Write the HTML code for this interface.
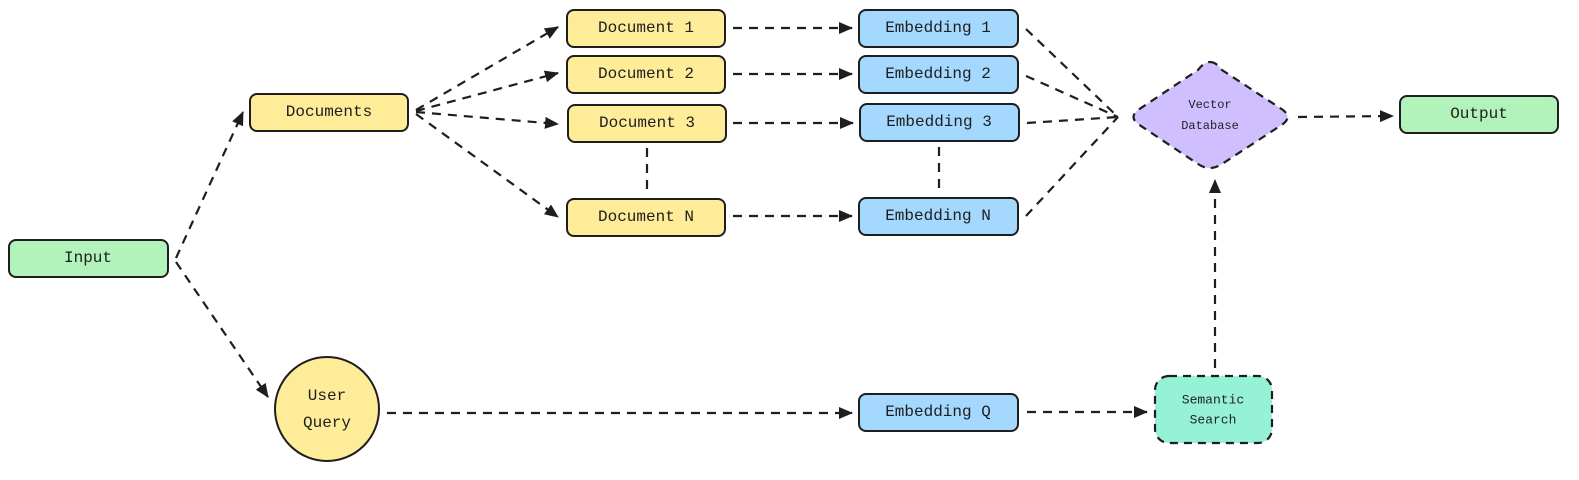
<!DOCTYPE html>
<html><head><meta charset="utf-8"><style>
body{margin:0;background:#fff;}
svg text{font-family:"Liberation Mono",monospace;font-size:16px;fill:#1e1e1e;text-anchor:middle;dominant-baseline:central;}
</style></head><body>
<svg width="1579" height="475" viewBox="0 0 1579 475" xmlns="http://www.w3.org/2000/svg">
<defs><marker id="a" markerWidth="14" markerHeight="14" refX="13" refY="7" orient="auto" markerUnits="userSpaceOnUse"><path d="M0,1 L14,7 L0,13 Z" fill="#1e1e1e"/></marker></defs>
<g stroke="#1e1e1e" stroke-width="2.2" stroke-dasharray="9,7" fill="none">
<path d="M176,258 L243,112" marker-end="url(#a)"/>
<path d="M176,262 L268,397" marker-end="url(#a)"/>
<path d="M416,110 L558,27" marker-end="url(#a)"/>
<path d="M416,111 L558,73" marker-end="url(#a)"/>
<path d="M416,112 L558,124" marker-end="url(#a)"/>
<path d="M416,114 L558,217" marker-end="url(#a)"/>
<path d="M733,28 L852,28" marker-end="url(#a)"/>
<path d="M733,74 L852,74" marker-end="url(#a)"/>
<path d="M733,123 L853,123" marker-end="url(#a)"/>
<path d="M733,216 L852,216" marker-end="url(#a)"/>
<path d="M647,148 L647,193"/>
<path d="M939,147 L939,192"/>
<path d="M1026,29 L1118,117"/>
<path d="M1026,76 L1118,117"/>
<path d="M1027,123 L1118,117"/>
<path d="M1026,216 L1118,117"/>
<path d="M1298,117 L1393,116" marker-end="url(#a)"/>
<path d="M387,413 L852,413" marker-end="url(#a)"/>
<path d="M1027,412 L1147,412" marker-end="url(#a)"/>
<path d="M1215,368 L1215,180" marker-end="url(#a)"/>
</g>
<g stroke="#1e1e1e" stroke-width="2">
<rect x="9" y="240" width="159" height="37" rx="7" fill="#b2f2bb"/>
<rect x="250" y="94" width="158" height="37" rx="7" fill="#ffec99"/>
<rect x="567" y="10" width="158" height="37" rx="7" fill="#ffec99"/>
<rect x="567" y="56" width="158" height="37" rx="7" fill="#ffec99"/>
<rect x="568" y="105" width="158" height="37" rx="7" fill="#ffec99"/>
<rect x="567" y="199" width="158" height="37" rx="7" fill="#ffec99"/>
<rect x="859" y="10" width="159" height="37" rx="7" fill="#a5d8ff"/>
<rect x="859" y="56" width="159" height="37" rx="7" fill="#a5d8ff"/>
<rect x="860" y="104" width="159" height="37" rx="7" fill="#a5d8ff"/>
<rect x="859" y="198" width="159" height="37" rx="7" fill="#a5d8ff"/>
<rect x="859" y="394" width="159" height="37" rx="7" fill="#a5d8ff"/>
<rect x="1400" y="96" width="158" height="37" rx="7" fill="#b2f2bb"/>
<circle cx="327" cy="409" r="52" fill="#ffec99"/>
<path d="M1210,62 Q1216,62 1222,70 L1283,110 Q1292,117 1283,124 L1222,164 Q1210,172 1198,164 L1138,124 Q1129,117 1138,110 L1198,70 Q1204,62 1210,62 Z" fill="#d0bfff" stroke-dasharray="8,6" stroke-width="2.2"/>
<rect x="1155" y="376" width="117" height="67" rx="14" fill="#96f2d7" stroke-dasharray="8,6" stroke-width="2.2"/>
</g>
<text x="88" y="258">Input</text>
<text x="329" y="112">Documents</text>
<text x="646" y="28">Document 1</text>
<text x="646" y="74">Document 2</text>
<text x="647" y="123">Document 3</text>
<text x="646" y="217">Document N</text>
<text x="938" y="28">Embedding 1</text>
<text x="938" y="74">Embedding 2</text>
<text x="939" y="122">Embedding 3</text>
<text x="938" y="216">Embedding N</text>
<text x="938" y="412">Embedding Q</text>
<text x="1479" y="114">Output</text>
<text x="327" y="396">User</text>
<text x="327" y="423">Query</text>
<text x="1210" y="105" style="font-size:12px">Vector</text>
<text x="1210" y="126" style="font-size:12px">Database</text>
<text x="1213" y="400" style="font-size:13px">Semantic</text>
<text x="1213" y="420" style="font-size:13px">Search</text>
</svg>
</body></html>
